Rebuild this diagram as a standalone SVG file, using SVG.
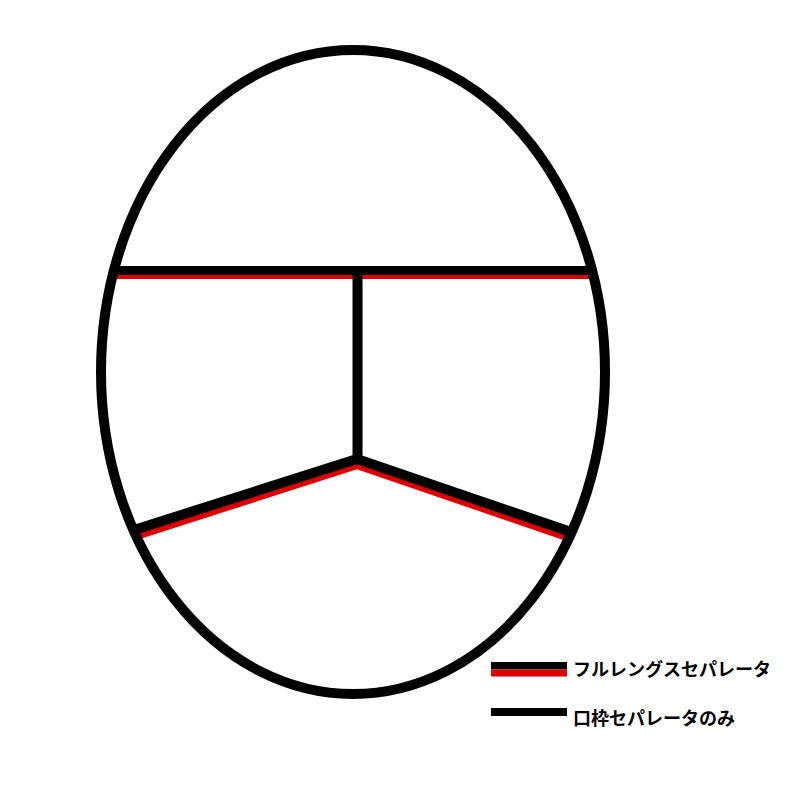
<svg xmlns="http://www.w3.org/2000/svg" width="800" height="800" viewBox="0 0 800 800">
<style>
.blk{stroke:#000;fill:none;stroke-linecap:butt;stroke-linejoin:miter}
.red{stroke:#e00000;fill:none;stroke-width:10}
.lbl{font-family:"Noto Sans CJK JP","Noto Sans",sans-serif;font-size:18px;font-weight:bold;fill:#000}
</style>
<rect width="800" height="800" fill="#fff"/>
<g id="connectors">
<line class="red" x1="112" y1="274" x2="592" y2="274"/>
<polyline class="red" points="136,535 357,464 570,537"/>
<line class="blk" stroke-width="9" x1="112" y1="270.5" x2="592" y2="270.5"/>
<line class="blk" stroke-width="10" x1="357.5" y1="270" x2="357.5" y2="459"/>
<polyline class="blk" stroke-width="10" points="134,530 357,459 571,532"/>
</g>
<g id="outline">
<ellipse cx="353" cy="372" rx="252" ry="322" class="blk" stroke-width="10"/>
</g>
<g id="legend-full">
<rect x="491" y="662" width="76" height="7.5" fill="#000"/>
<rect x="491" y="669.5" width="76" height="7" fill="#e00000"/>
<text class="lbl" x="573" y="676">フルレングスセパレータ</text>
</g>
<g id="legend-frame">
<rect x="491" y="708" width="76" height="8" fill="#000"/>
<text class="lbl" x="573" y="725">口枠セパレータのみ</text>
</g>
</svg>
